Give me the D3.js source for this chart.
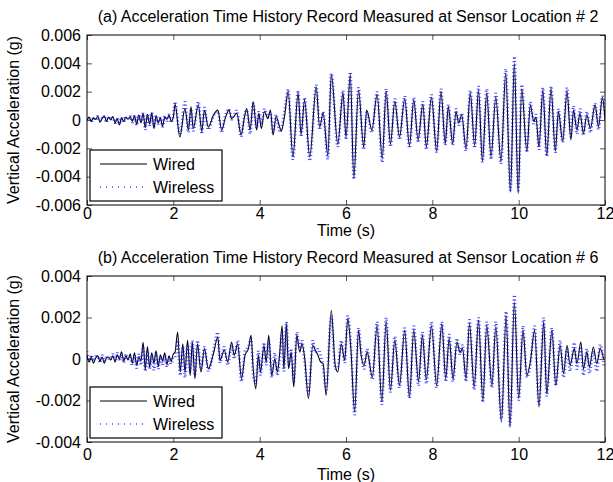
<!DOCTYPE html>
<html>
<head>
<meta charset="utf-8">
<script src="https://cdn.jsdelivr.net/npm/d3@7"></script>
<style>
  html, body { margin: 0; padding: 0; background: #fff; }
  svg { display: block; font-family: "Liberation Sans", Arial, Helvetica, sans-serif; }
  .tick text { fill: #000; }
  .tick line { stroke: #555; }
</style>
</head>
<body>
<svg id="chart" width="613" height="482"></svg>
<script>
// ============ Data (acceleration in units of 0.001 g, time in s) ============
const SERIES_NAMES = ["Wired", "Wireless"];
const TITLES = [
  "(a) Acceleration Time History Record Measured at Sensor Location # 2",
  "(b) Acceleration Time History Record Measured at Sensor Location # 6"
];
const X_TICKS = [0, 2, 4, 6, 8, 10, 12];
const Y_TICKS_A = [-6, -4, -2, 0, 2, 4, 6];
const Y_TICKS_B = [-4, -2, 0, 2, 4];

// sensor #2
const timeA = [
  0, 0.05, 0.1, 0.15, 0.2, 0.25, 0.3, 0.35, 0.4, 0.45, 0.5, 0.55, 0.6, 0.65, 0.7, 0.75, 0.8, 0.85, 0.9, 0.95,
  1.0, 1.05, 1.1, 1.15, 1.2, 1.25, 1.3, 1.35, 1.4, 1.45, 1.5, 1.55, 1.6, 1.65, 1.7, 1.75, 1.8, 1.85, 1.9, 1.95, 2.0,
  2.04, 2.15, 2.27, 2.35, 2.41, 2.46, 2.58, 2.66, 2.72, 2.81, 2.93, 3.03, 3.12, 3.2, 3.29, 3.35, 3.47, 3.57, 3.65, 3.7,
  3.78, 3.85, 3.93, 3.98, 4.04, 4.11, 4.19, 4.25, 4.31, 4.38, 4.46, 4.5, 4.58, 4.66, 4.77, 4.89, 4.96, 5.04, 5.16, 5.31,
  5.39, 5.47, 5.58, 5.66, 5.81, 5.93, 6.0, 6.1, 6.18, 6.29, 6.41, 6.48, 6.6, 6.72, 6.84, 6.93, 7.03, 7.13, 7.24, 7.36,
  7.47, 7.57, 7.67, 7.78, 7.86, 7.98, 8.1, 8.2, 8.3, 8.37, 8.47, 8.55, 8.61, 8.68, 8.78, 8.88, 8.98, 9.07, 9.16, 9.26,
  9.36, 9.47, 9.59, 9.7, 9.81, 9.9, 9.99, 10.07, 10.19, 10.27, 10.35, 10.4, 10.47, 10.56, 10.65, 10.75, 10.85, 10.92, 11.02, 11.12,
  11.21, 11.27, 11.35, 11.42, 11.5, 11.58, 11.66, 11.77, 11.85, 11.94, 12.0
];
const wiredA = [
  0.0, 0.2, -0.1, 0.15, 0.05, 0.25, -0.15, 0.1, 0.3, -0.1, 0.2, 0.0, 0.25, -0.2, 0.1, -0.35, 0.15, -0.1, 0.2, 0.05,
  0.25, -0.1, 0.3, -0.3, 0.35, -0.2, 0.45, -0.55, 0.4, -0.3, 0.5, -0.6, 0.3, -0.2, 0.15, -0.45, 0.2, 0.05, 0.35, -0.1, 0.2,
  1.1, -1.2, 0.8, -0.7, 0.94, -0.6, 1.06, -0.8, 0.7, -0.5, 0.35, 0.7, -0.7, 0.1, 0.7, 0.1, 0.47, -1.06, 0.23, 0.8,
  -0.7, 1.3, -0.7, 0.47, -0.6, 0.6, 0.1, 0.7, -1.06, 0.23, -0.47, -0.8, 0.35, 2.0, -2.6, 1.9, -1.0, 1.4, -2.6, 2.3,
  -0.5, 0.5, -2.5, 3.2, -1.7, 1.9, -1.2, 3.2, -4.1, 2.1, -1.9, 0.7, -0.7, 1.8, -2.7, 2.0, -1.7, 1.3, -1.2, 1.5,
  -1.8, 1.4, -1.4, 1.1, -1.9, 1.6, -2.2, 2.0, -1.65, 0.95, -1.65, 0.6, -0.2, 0.35, -2.0, 1.9, -1.8, 2.1, -2.9, 1.9,
  -2.6, 1.6, -2.9, 3.3, -5.1, 4.0, -5.2, 2.2, -2.2, 1.05, -0.1, 0.2, -1.9, 2.1, -2.5, 2.2, -2.2, 0.6, -1.5, 2.0,
  -1.4, 0.7, -0.7, 0.47, -0.95, 0.35, -0.6, 1.05, -0.47, 1.6, 0.0
];
const wirelessA = [
  0.1, 0.1, -0.15, 0.2, -0.05, 0.3, -0.1, 0.15, 0.25, -0.2, 0.25, 0.1, 0.2, -0.25, 0.15, -0.3, 0.2, -0.2, 0.25, 0.0,
  0.3, -0.2, 0.35, -0.4, 0.4, -0.1, 0.5, -0.7, 0.45, -0.4, 0.55, -0.5, 0.35, -0.3, 0.2, -0.5, 0.3, -0.1, 0.4, -0.2, 0.3,
  1.3, -1.0, 1.3, -0.9, 0.8, -0.8, 1.3, -1.0, 0.9, -0.7, 0.3, 0.6, -0.9, 0.3, 0.8, 0.0, 0.7, -1.2, 0.4, 0.7,
  -1.0, 1.2, -0.6, 0.6, -0.3, 0.8, 0.3, 0.5, -0.9, 0.4, -0.8, -0.6, 0.7, 2.2, -2.8, 2.1, -1.2, 1.6, -2.9, 2.5,
  -0.7, 0.6, -2.8, 3.3, -1.9, 2.1, -1.4, 3.4, -4.2, 2.3, -2.1, 0.6, -0.9, 2.0, -3.0, 2.2, -1.9, 1.5, -1.4, 1.7,
  -2.0, 1.6, -1.6, 1.3, -2.1, 1.8, -2.3, 2.2, -1.8, 1.1, -1.8, 0.8, -0.4, 0.5, -2.2, 2.1, -2.0, 2.4, -3.0, 2.2,
  -2.8, 1.9, -3.1, 3.6, -5.0, 4.5, -5.0, 2.5, -2.3, 1.3, -0.3, 0.4, -2.1, 2.3, -2.6, 2.4, -2.3, 0.8, -1.6, 2.3,
  -1.2, 1.0, -1.0, 0.8, -1.1, 0.6, -0.9, 1.2, -0.7, 1.7, 0.2
];

// sensor #6
const timeB = [
  0, 0.05, 0.1, 0.15, 0.2, 0.25, 0.3, 0.35, 0.4, 0.45, 0.5, 0.55, 0.6, 0.65, 0.7, 0.75, 0.8, 0.85, 0.9, 0.95,
  1.0, 1.05, 1.1, 1.15, 1.2, 1.25, 1.3, 1.35, 1.4, 1.45, 1.5, 1.55, 1.6, 1.65, 1.7, 1.75, 1.8, 1.85, 1.9, 1.95, 2.0,
  2.04, 2.1, 2.16, 2.22, 2.27, 2.33, 2.39, 2.44, 2.5, 2.56, 2.64, 2.72, 2.81, 2.93, 3.03, 3.08, 3.18, 3.26, 3.35, 3.41,
  3.49, 3.58, 3.66, 3.74, 3.8, 3.85, 3.91, 3.97, 4.02, 4.1, 4.15, 4.21, 4.28, 4.35, 4.41, 4.46, 4.52, 4.56, 4.62, 4.67,
  4.73, 4.79, 4.86, 4.93, 4.98, 5.04, 5.13, 5.23, 5.29, 5.35, 5.41, 5.47, 5.54, 5.66, 5.75, 5.81, 5.89, 5.97, 6.04, 6.11,
  6.2, 6.29, 6.35, 6.42, 6.49, 6.61, 6.72, 6.83, 6.93, 7.03, 7.13, 7.24, 7.36, 7.47, 7.57, 7.68, 7.77, 7.86, 7.98, 8.1,
  8.22, 8.31, 8.39, 8.48, 8.57, 8.64, 8.7, 8.78, 8.86, 8.97, 9.07, 9.17, 9.26, 9.38, 9.47, 9.6, 9.71, 9.8, 9.9, 10.0,
  10.1, 10.19, 10.27, 10.37, 10.47, 10.58, 10.65, 10.77, 10.86, 10.96, 11.04, 11.12, 11.19, 11.29, 11.35, 11.44, 11.5, 11.58, 11.64, 11.73,
  11.81, 11.89, 11.97
];
const wiredB = [
  0.2, -0.15, 0.1, -0.2, 0.05, 0.15, -0.1, 0.1, -0.2, 0.05, 0.1, -0.05, 0.15, -0.15, 0.2, 0.0, 0.35, -0.1, 0.15, -0.05,
  0.25, -0.2, 0.3, -0.3, 0.1, -0.1, 0.8, -0.5, 0.6, -0.4, 0.3, -0.2, 0.4, -0.35, 0.2, -0.1, 0.3, -0.25, 0.15, -0.1, 0.25,
  0.33, 1.3, -0.63, 0.73, -0.63, 0.9, -0.79, 0.82, -0.95, 0.73, -0.63, 0.5, -0.47, 0.26, 1.06, -0.06, 0.42, -0.14, 0.82, 0.18,
  0.73, -0.95, 0.18, 0.5, 1.14, -0.47, -1.43, 0.18, -0.63, 0.65, -0.15, 1.14, -0.79, 0.0, -0.63, 0.17, 1.6, -0.47, 1.7, -0.47,
  0.33, -1.35, 1.14, 0.33, 0.73, 0.1, -1.9, 0.66, 0.42, 0.18, -0.14, -0.22, -1.75, 2.35, -0.3, -0.63, 0.73, -0.06, 1.94, 0.58,
  -2.55, 1.38, 0.18, -0.3, 0.33, -0.87, 1.6, -2.07, 1.78, -1.51, 0.9, -1.27, 1.38, -1.83, 1.38, -1.1, 1.14, -1.0, 1.6, -1.27,
  1.7, -0.95, 0.98, -0.95, 0.82, 0.33, 0.5, -0.95, 1.7, -1.35, 1.86, -2.0, 1.6, -1.27, 1.54, -3.04, 2.1, -3.3, 2.75, -1.9,
  1.38, -0.79, -0.14, 1.38, -2.31, 1.78, -1.67, 1.38, -1.27, 0.66, -0.71, 0.66, -0.3, 0.5, -0.22, 0.82, -0.47, 0.33, -0.39, 0.58,
  -0.22, 0.5, 0.0
];
const wirelessB = [
  0.35, 0.0, 0.2, -0.1, 0.15, 0.1, -0.2, 0.2, -0.1, 0.1, 0.0, 0.05, 0.25, -0.05, 0.3, -0.1, 0.2, -0.2, 0.25, 0.0,
  0.1, -0.3, 0.2, -0.45, 0.25, -0.3, 0.6, -0.6, 0.4, -0.5, 0.2, -0.55, 0.3, -0.5, 0.1, -0.3, 0.2, -0.4, 0.0, -0.25, 0.1,
  0.1, 0.9, -0.8, 0.6, -0.9, 0.7, -0.6, 0.9, -0.8, 0.9, -0.5, 0.6, -0.6, 0.4, 1.3, -0.2, 0.6, -0.3, 0.7, 0.0,
  0.9, -1.1, 0.4, 0.6, 1.0, -0.7, -1.2, 0.4, -0.8, 0.8, -0.3, 0.9, -0.9, 0.3, -0.8, 0.0, 1.3, -0.6, 1.8, -0.3,
  0.5, -1.1, 1.3, 0.5, 0.9, -0.1, -1.7, 0.9, 0.3, 0.5, 0.2, -0.4, -1.5, 2.1, -0.5, -0.4, 0.9, -0.2, 2.1, 0.8,
  -2.7, 1.5, 0.4, -0.5, 0.5, -1.0, 1.8, -2.2, 2.0, -1.6, 1.1, -1.4, 1.5, -1.9, 1.6, -1.3, 1.3, -1.2, 1.8, -1.4,
  1.8, -1.1, 1.2, -1.1, 1.0, 0.2, 0.7, -1.1, 1.9, -1.5, 2.0, -2.1, 1.8, -1.4, 1.8, -2.9, 2.3, -3.2, 3.1, -2.0,
  1.6, -0.9, -0.3, 1.6, -2.2, 2.0, -1.8, 1.5, -1.3, 0.9, -0.9, 0.5, -0.6, 0.8, -0.5, 0.6, -0.8, 0.5, -0.7, 0.4,
  -0.6, 0.7, -0.3
];

// ============ Layout ============
const WIDTH = 613, HEIGHT = 482;
const LEFT = 87, RIGHT = 605;
const FONT = 16;

const panels = [
  { title: TITLES[0], time: timeA, wired: wiredA, wireless: wirelessA, yDomain: [-6, 6], yTicks: Y_TICKS_A,
    top: 35, bottom: 205, xPad: 3, xLabelDy: 31 },
  { title: TITLES[1], time: timeB, wired: wiredB, wireless: wirelessB, yDomain: [-4, 4], yTicks: Y_TICKS_B,
    top: 276, bottom: 442, xPad: 7, xLabelDy: 38 }
];

const svg = d3.select("#chart");
const x = d3.scaleLinear().domain([0, 12]).range([LEFT, RIGHT]);

const yFormat = d => d === 0 ? "0" : (d / 1000).toFixed(3);

panels.forEach((p, i) => {
  const y = d3.scaleLinear().domain(p.yDomain).range([p.bottom, p.top]);
  const g = svg.append("g").attr("class", "panel-" + i);

  g.append("clipPath").attr("id", "clip" + i)
    .append("rect")
    .attr("x", LEFT).attr("y", p.top)
    .attr("width", RIGHT - LEFT).attr("height", p.bottom - p.top);

  // ---- axes (ticks pointing inward on all four sides) ----
  g.append("g").attr("transform", `translate(0,${p.bottom})`)
    .call(d3.axisBottom(x).tickValues(X_TICKS).tickSizeInner(-5).tickSizeOuter(0).tickPadding(p.xPad).tickFormat(d3.format("d")))
    .call(a => a.select(".domain").remove());
  g.append("g").attr("transform", `translate(0,${p.top})`)
    .call(d3.axisTop(x).tickValues(X_TICKS).tickSizeInner(-5).tickSizeOuter(0).tickFormat(""))
    .call(a => a.select(".domain").remove());
  g.append("g").attr("transform", `translate(${LEFT},0)`)
    .call(d3.axisLeft(y).tickValues(p.yTicks).tickSizeInner(-5).tickSizeOuter(0).tickPadding(6).tickFormat(yFormat))
    .call(a => a.select(".domain").remove());
  g.append("g").attr("transform", `translate(${RIGHT},0)`)
    .call(d3.axisRight(y).tickValues(p.yTicks).tickSizeInner(-5).tickSizeOuter(0).tickFormat(""))
    .call(a => a.select(".domain").remove());

  g.selectAll(".tick text").attr("font-size", FONT).attr("font-family", "Liberation Sans, Arial, sans-serif");

  // ---- lines ----
  const line = d3.line()
    .x((d, k) => x(p.time[k]))
    .y(d => y(d))
    .curve(d3.curveMonotoneX);

  const plot = g.append("g").attr("clip-path", `url(#clip${i})`);
  plot.append("path")
    .attr("d", line(p.wired))
    .attr("fill", "none")
    .attr("stroke", "#000")
    .attr("stroke-width", 1.1);

  // wireless: dotted trace, drawn as short horizontal marks along the curve
  const wPath = plot.append("path")
    .attr("d", line(p.wireless))
    .attr("fill", "none")
    .attr("stroke", "none");
  const node = wPath.node();
  const total = node.getTotalLength();
  const marks = [];
  for(let s = 0; s <= total; s += 3.6){
    const pt = node.getPointAtLength(s);
    marks.push([pt.x, pt.y]);
  }
  plot.append("path")
    .attr("d", marks.map(m => `M${(m[0] - 1.4).toFixed(1)},${m[1].toFixed(1)}h2.8`).join(""))
    .attr("stroke", "#1f1fff")
    .attr("stroke-opacity", 0.8)
    .attr("stroke-width", 1);

  // ---- frame ----
  g.append("rect")
    .attr("x", LEFT).attr("y", p.top)
    .attr("width", RIGHT - LEFT).attr("height", p.bottom - p.top)
    .attr("fill", "none").attr("stroke", "#000").attr("stroke-width", 1);

  // ---- texts ----
  g.append("text")
    .attr("x", (LEFT + RIGHT) / 2 + 2).attr("y", p.top - 13)
    .attr("text-anchor", "middle").attr("font-size", FONT)
    .text(p.title);
  g.append("text")
    .attr("x", (LEFT + RIGHT) / 2).attr("y", p.bottom + p.xLabelDy)
    .attr("text-anchor", "middle").attr("font-size", FONT)
    .text("Time (s)");
  g.append("text")
    .attr("transform", `translate(19,${(p.top + p.bottom) / 2}) rotate(-90)`)
    .attr("text-anchor", "middle").attr("font-size", FONT)
    .text("Vertical Acceleration (g)");

  // ---- legend ----
  const lg = g.append("g").attr("transform", `translate(90,${p.bottom - 55})`);
  lg.append("rect")
    .attr("x", 0).attr("y", 0).attr("width", 132).attr("height", 51)
    .attr("fill", "#fff").attr("stroke", "#000").attr("stroke-width", 1.2);
  SERIES_NAMES.forEach((name, k) => {
    const cy = 14 + k * 23;
    lg.append("line")
      .attr("x1", 10).attr("x2", 57).attr("y1", cy).attr("y2", cy)
      .attr("stroke", k === 0 ? "#000" : "#1f1fff")
      .attr("stroke-opacity", k === 0 ? 1 : 0.8)
      .attr("stroke-width", k === 0 ? 1 : 1.5)
      .attr("stroke-dasharray", k === 0 ? null : "1,5");
    lg.append("text")
      .attr("x", 63).attr("y", cy).attr("dy", "0.35em")
      .attr("font-size", FONT)
      .text(name);
  });
});
</script>
</body>
</html>
